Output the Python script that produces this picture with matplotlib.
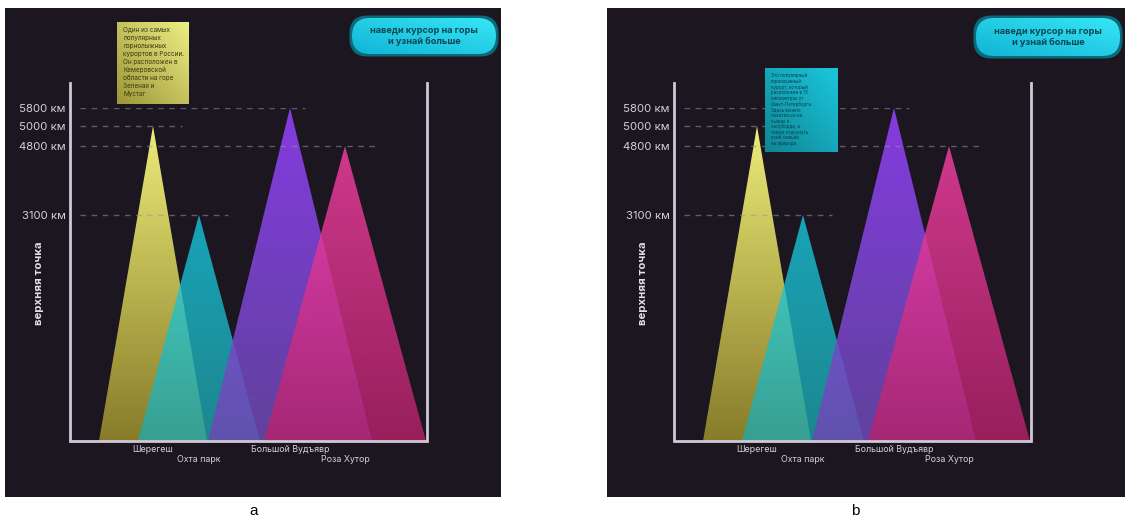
import numpy as np
import matplotlib
matplotlib.use("Agg")
import matplotlib.pyplot as plt
from matplotlib.patches import Polygon, FancyBboxPatch
from matplotlib.colors import to_rgb

# ---- data ----
resorts = ["Шерегеш", "Охта парк", "Большой Вудъявр", "Роза Хутор"]
summits = [5000, 3100, 5800, 4800]
level_values = [3100, 4800, 5000, 5800]
level_labels = ["3100 км", "4800 км", "5000 км", "5800 км"]
axis_title = "верхняя точка"
hint_text = "наведи курсор на горы\nи узнай больше"
info_sheregesh = ("Один из самых\nпопулярных\nгорнолыжных\nкурортов в России.\n"
                  "Он расположен в\nКемеровской\nобласти на горе\nЗеленая и\nМустаг")
info_okhta = ("Это популярный\nгорнолыжный\nкурорт, который\nрасположен в 13\n"
              "километрах от\nСанкт-Петербурга.\nЗдесь можно\nпокататься на\n"
              "лыжах и\nсноуборде, а\nтакже отдохнуть\nвсей семьёй\nна природе.")
captions = ["a", "b"]

# ---- layout / style ----
W, H = 1130, 526
BG = "#1b1620"
LINE = "#cfc8d6"
TEXT = "#d6cfdb"
plt.rcParams["font.family"] = ["Inter", "DejaVu Sans"]

peak_x = [83, 129, 220, 275]          # centre of each mountain, px from the y axis
half_base = [54, 61, 82, 81]          # half width of each mountain base, px
level_px = [226, 295, 315, 333]       # height of each level line above the baseline, px
top_rgb = [(244, 244, 124), (24, 210, 234), (150, 66, 255), (252, 66, 168)]
bot_rgb = [(140, 128, 42), (30, 172, 180), (108, 74, 178), (184, 34, 108)]
alphas = [0.97, 0.76, 0.86, 0.80]
dash_gap = [29, 29, 15, 30]

AX_W = 357
BASE_Y = 441
TOP_Y = 83

fig = plt.figure(figsize=(W / 100, H / 100), dpi=100, facecolor="white")


def fig_rect(x0, y0, x1, y1):
    return [x0 / W, 1 - y1 / H, (x1 - x0) / W, (y1 - y0) / H]


def fwd(v):
    return np.interp(v, [0] + level_values, [0] + level_px)


def inv(p):
    return np.interp(p, [0] + level_px, [0] + level_values)


def pixel_axes(x0, x1, y0, y1, face=None):
    a = fig.add_axes(fig_rect(x0, y0, x1, y1))
    a.set_xlim(x0, x1)
    a.set_ylim(y1, y0)
    a.set_xticks([])
    a.set_yticks([])
    for s in a.spines.values():
        s.set_visible(False)
    if face is None:
        a.patch.set_alpha(0)
    else:
        a.set_facecolor(face)
    return a


def gradient_box(a, x0, y0, x1, y1, c_light, c_dark, style, text=None,
                 text_kw=None, halo=None):
    if halo is not None:
        a.add_patch(FancyBboxPatch((x0, y0), x1 - x0, y1 - y0,
                                   boxstyle=style.replace("pad=0", "pad=2.5"),
                                   facecolor=halo, edgecolor="none", zorder=2))
    clip = FancyBboxPatch((x0, y0), x1 - x0, y1 - y0, boxstyle=style,
                          facecolor="none", edgecolor="none", zorder=3)
    a.add_patch(clip)
    u = np.linspace(0, 1, 64)[None, :]
    v = np.linspace(0, 1, 64)[:, None]
    t = np.clip(0.5 * u + 0.5 * (1 - v), 0, 1)
    cl = np.array(to_rgb(c_light))
    cd = np.array(to_rgb(c_dark))
    img = cd + (cl - cd) * t[..., None]
    im = a.imshow(img, extent=(x0, x1, y1, y0), origin="upper",
                  aspect="auto", interpolation="bilinear", zorder=3)
    im.set_clip_path(clip)
    if text is not None:
        a.text(**text_kw, s=text, zorder=4)


def draw_panel(px0, px1, ax_left, tip, button):
    pixel_axes(px0, px1, 8, 497, face=BG)

    ax = fig.add_axes(fig_rect(ax_left, BASE_Y - level_px[-1],
                               ax_left + AX_W, BASE_Y))
    ax.patch.set_alpha(0)
    ax.set_yscale("function", functions=(fwd, inv))
    ax.set_xlim(0, AX_W)
    ax.set_ylim(0, level_values[-1])
    for s in ax.spines.values():
        s.set_visible(False)

    # mountains: vertical colour gradient clipped to a triangle
    for i, (cx, hw, h) in enumerate(zip(peak_x, half_base, summits)):
        tri = Polygon([(cx - hw, 0), (cx, h), (cx + hw, 0)], closed=True,
                      transform=ax.transData)
        top_frac = fwd(h) / fwd(level_values[-1])
        n = 128
        s = np.linspace(1, 0, n)[:, None]
        ct = np.array(top_rgb[i]) / 255
        cb = np.array(bot_rgb[i]) / 255
        rgb = cb + (ct - cb) * s
        rgba = np.concatenate([rgb, np.full((n, 1), alphas[i])], axis=1)
        rgba = np.repeat(rgba[:, None, :], 2, axis=1)
        im = ax.imshow(rgba, extent=(0, 1, 0, top_frac), origin="upper",
                       transform=ax.transAxes, aspect="auto",
                       interpolation="bilinear", zorder=1 + i)
        im.set_clip_path(tri)

    # dashed guide lines to each summit
    for cx, h, g in zip(peak_x, summits, dash_gap):
        ax.hlines(h, 10, cx + g, colors="#9a94a0", linestyles=(0, (4, 4)),
                  linewidth=1.0, alpha=0.55, zorder=6)

    # frame: two uprights and the baseline
    ext = (BASE_Y - TOP_Y) / level_px[-1]
    ax.plot([0, 0, 1, 1], [ext, 0, 0, ext], transform=ax.transAxes,
            color=LINE, linewidth=2.0, clip_on=False, zorder=7,
            solid_joinstyle="miter")

    ax.set_yticks(level_values, level_labels)
    ax.tick_params(axis="y", length=0, pad=3, labelsize=8.2,
                   labelcolor=TEXT)
    ax.set_xticks([])
    ax.set_ylabel(axis_title, color="#e4deea", fontsize=8.2,
                  fontweight="bold")
    ax.yaxis.set_label_coords(-26 / AX_W, 0.474)

    for i, (cx, name) in enumerate(zip(peak_x, resorts)):
        off = 9 if i % 2 == 0 else 19
        ax.text(cx, -off / level_px[-1], name, transform=ax.get_xaxis_transform(),
                ha="center", va="center", fontsize=6.4, color=TEXT)

    ov = pixel_axes(px0, px1, 8, 497)
    bx0, by0, bx1, by1 = button
    gradient_box(ov, bx0, by0, bx1, by1, "#36e6f6", "#12b4d6",
                 "round,pad=0,rounding_size=18",
                 text=hint_text, halo="#0b6a78",
                 text_kw=dict(x=(bx0 + bx1) / 2, y=(by0 + by1) / 2,
                              ha="center", va="center", fontsize=6.6,
                              fontweight="bold", color="#0c4752",
                              linespacing=1.2))
    tx0, ty0, tx1, ty1, light, dark, body, fs, ls, tcol = tip
    gradient_box(ov, tx0, ty0, tx1, ty1, light, dark,
                 "square,pad=0", text=body,
                 text_kw=dict(x=tx0 + 6, y=ty0 + 5, ha="left", va="top",
                              fontsize=fs, color=tcol, linespacing=ls))


draw_panel(5, 501, 70,
           (117, 22, 189, 104, "#eeee84", "#9c9638", info_sheregesh, 4.6, 1.38,
            "#3a3a12"),
           (352, 18, 496, 54))
draw_panel(607, 1125, 674,
           (765, 68, 838, 152, "#1cc6dc", "#0e8696", info_okhta, 3.2, 1.15,
            "#0a3d45"),
           (976, 18, 1120, 56))

fig.text(254 / W, 1 - 511 / H, captions[0], ha="center", va="center",
         fontsize=11, color="black", family="Liberation Sans")
fig.text(855 / W, 1 - 511 / H, captions[1], ha="center", va="center",
         fontsize=11, color="black", family="Liberation Sans")

fig.savefig("out.png", dpi=100, facecolor="white")
